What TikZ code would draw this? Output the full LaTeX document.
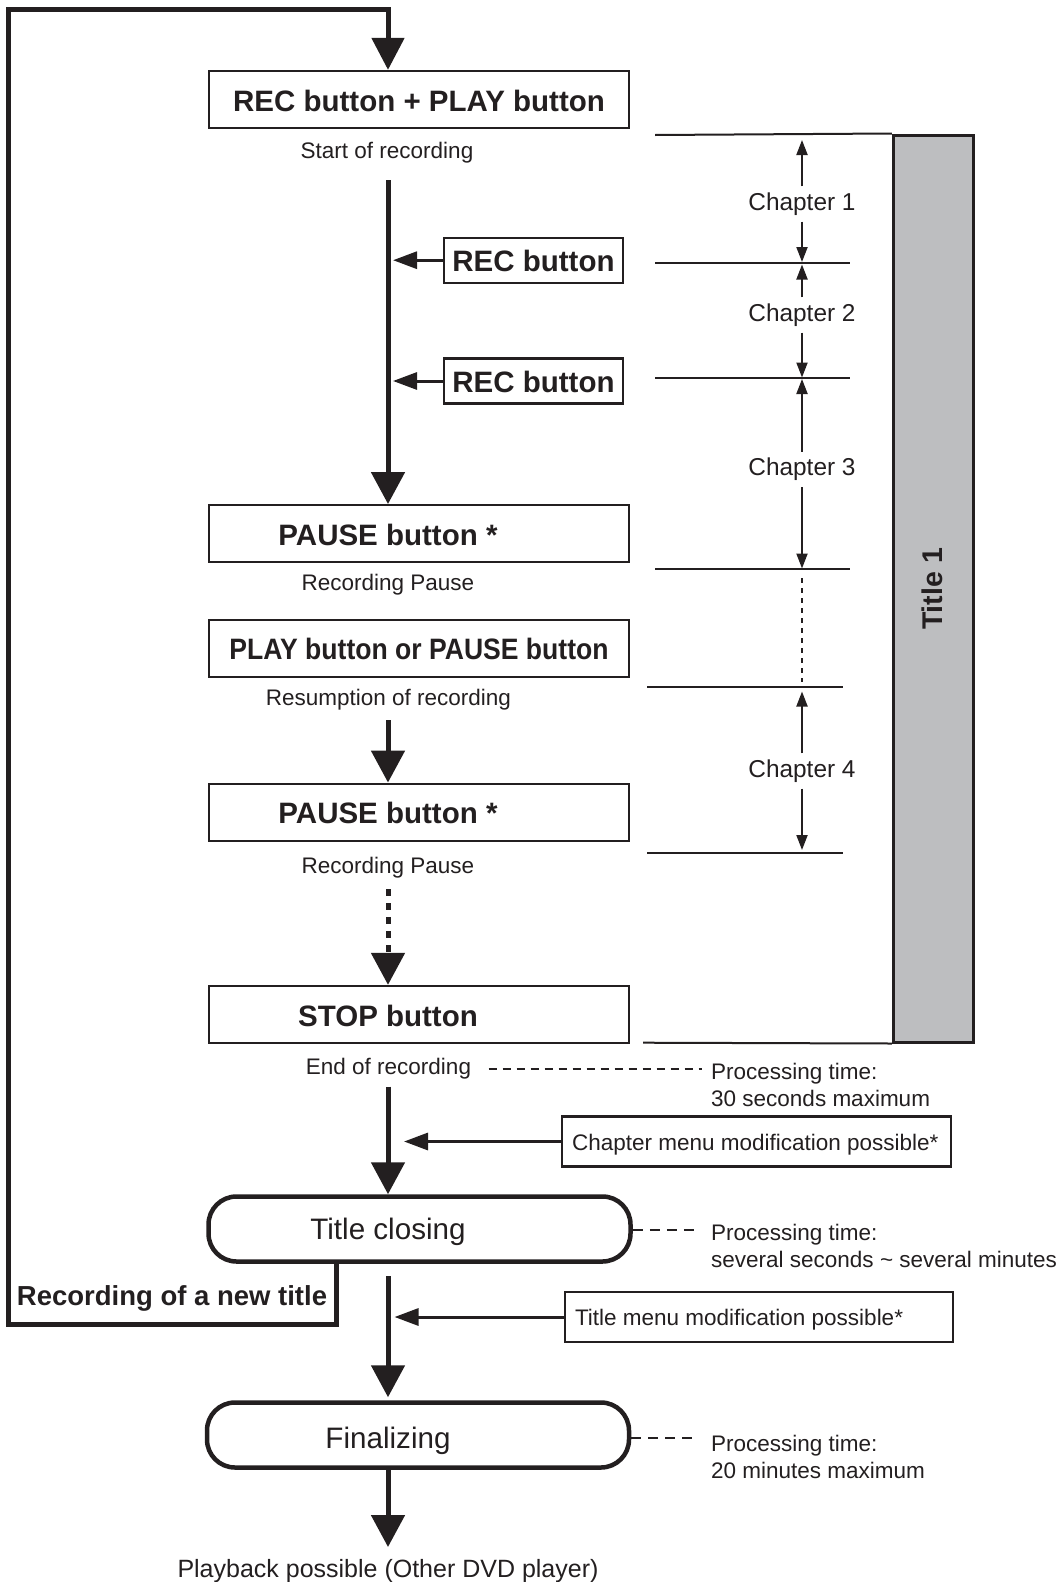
\documentclass[tikz,border=0pt]{standalone}
\usepackage{fontspec}
\usepackage{graphicx}
\setmainfont{Liberation Sans}
\usetikzlibrary{arrows.meta}
\definecolor{ink}{RGB}{35,31,32}
\definecolor{barfill}{RGB}{189,190,192}
\newcommand\myBold{\fontsize{29.5}{34}\selectfont\bfseries}
\newcommand\myNorm{\fontsize{22.5}{27.5}\selectfont}
\newcommand\myChap{\fontsize{24.4}{29}\selectfont}
\newcommand\myLarge{\fontsize{29.6}{34}\selectfont}
\newcommand\myPlay{\fontsize{25}{30}\selectfont}
\newcommand\myNT{\fontsize{27.5}{32}\selectfont\bfseries}
\newcommand\myTitle{\fontsize{28.5}{32}\selectfont\bfseries}
\newcommand\myLower[2]{\raisebox{-#1}[\height][\depth]{#2}}
\begin{document}
\begin{tikzpicture}[x=1pt,y=-1pt,
  every node/.style={text=ink},
  box/.style={draw=ink, line width=2.3pt, minimum width=420pt, minimum height=57pt, inner sep=0pt, font=\myBold},
  smallbox/.style={draw=ink, line width=2.3pt, minimum width=179pt, minimum height=45pt, inner sep=0pt, font=\myBold},
  roundbox/.style={draw=ink, line width=4.5pt, rounded corners=28pt, minimum width=422pt, minimum height=65pt, inner sep=0pt},
  menubox/.style={draw=ink, line width=2.3pt, inner xsep=10pt, inner ysep=0pt, minimum height=50pt, font=\myNorm},
  boldlbl/.style={font=\myBold, inner sep=0pt},
  lbl/.style={font=\myNorm},
  chap/.style={font=\myChap, inner xsep=0pt, inner ysep=6pt},
  proc/.style={font=\myNorm, align=left, anchor=west, inner sep=0pt},
  flow/.style={draw=ink, line width=5pt, -{Triangle[length=32pt,width=33pt]}},
  side/.style={draw=ink, line width=3pt, -{Triangle[length=24pt,width=17pt]}},
  dimarrow/.style={draw=ink, line width=2pt, -{Triangle[length=15pt,width=11pt]}},
  rulel/.style={draw=ink, line width=2pt},
  dashline/.style={draw=ink, line width=2pt, dash pattern=on 8pt off 6pt},
]
\useasboundingbox (0,0) rectangle (1061,1582);

% column coordinates
\coordinate (col) at (388,0);
\coordinate (c1) at (393,0);
\coordinate (c2) at (404,0);
\coordinate (c3) at (394.5,0);

% title bar
\node[draw=ink, fill=barfill, line width=3pt, minimum width=80pt, minimum height=907pt, inner sep=0pt] (bar) at (933.3,588.5) {};
\node[rotate=90, font=\myTitle, inner sep=0pt] (bart) at (932,589) {Title 1};

% main boxes
\node[box] (recplay) at (419,99.5) {\myLower{1.5pt}{REC button + PLAY button}};
\node[lbl] (start) at (387,153) {Start of recording};
\node[smallbox] (rec1) at (533.5,260.2) {\myLower{1pt}{REC button}};
\node[smallbox] (rec2) at (533.5,381) {\myLower{1pt}{REC button}};
\node[box] (pause1) at (419,533.7) {};
\node[boldlbl] (pause1t) at (388,535) {PAUSE button *};
\node[lbl] (rp1) at (388,585) {Recording Pause};
\node[box] (playpause) at (419,648.5) {\scalebox{0.9}[1]{PLAY button or PAUSE button}};
\node[lbl] (resum) at (388.5,699.5) {Resumption of recording};
\node[box] (pause2) at (419,812.2) {};
\node[boldlbl] (pause2t) at (388,813) {PAUSE button *};
\node[lbl] (rp2) at (388,868) {Recording Pause};
\node[box] (stop) at (419,1014.5) {};
\node[boldlbl] (stopt) at (388,1016) {STOP button};
\node[lbl] (endrec) at (388.5,1069) {End of recording};
\node[proc] (pt1) at (711,1085) {Processing time:\\30 seconds maximum};
\node[menubox] (chmenu) at (756.5,1141.5) {\makebox[369pt][l]{\myLower{3pt}{Chapter menu modification possible*}}};
\node[roundbox] (tclose) at (419.5,1229) {};
\node[font=\myLarge, inner sep=0pt] (tcloset) at (388,1232) {Title closing};
\node[proc] (pt2) at (711,1246) {Processing time:\\several seconds \textasciitilde{} several minutes};
\node[font=\myNT, inner sep=0pt] (newt) at (172,1298) {Recording of a new title};
\node[menubox] (tmenu) at (759,1317) {\makebox[368pt][l]{\myLower{3pt}{Title menu modification possible*}}};
\node[roundbox] (final) at (418,1435) {};
\node[font=\myLarge, inner sep=0pt] (finalt) at (388,1441) {Finalizing};
\node[proc] (pt3) at (711,1457) {Processing time:\\20 minutes maximum};
\node[font=\myPlay, inner sep=3pt] (play) at (388,1571) {Playback possible (Other DVD player)};

% loop back
\coordinate (ntc) at (336,1324);
\coordinate (lb) at (8.5,1324);
\coordinate (lt) at (8.5,9);
\coordinate (rt) at (388,9);
\draw[flow, -{Triangle[length=32pt,width=32pt]}] (tclose.south -| ntc) -- (ntc) -- (lb) -- (lt) -- (rt) -- (col |- recplay.north);

% main flow
\coordinate (m1) at (388,180);
\draw[flow] (m1) -- (col |- pause1.north);
\coordinate (m5) at (388,720);
\draw[flow] (m5) -- (col |- pause2.north);
\coordinate (m4) at (388,889);
\draw[flow, dash pattern=on 7pt off 7pt] (m4) -- (col |- stop.north);
\coordinate (m2) at (388,1086.7);
\draw[flow] (m2) -- (col |- tclose.north);
\coordinate (m3) at (388,1276);
\draw[flow, shorten >=3pt] (m3) -- (col |- final.north);
\coordinate (m6) at (388,1547);
\draw[flow] (col |- final.south) -- (m6);

% side arrows
\draw[side] (rec1.west) -- (c1 |- rec1.west);
\draw[side] (rec2.west) -- (c1 |- rec2.west);
\draw[side] (chmenu.west) -- (c2 |- chmenu.west);
\draw[side] (tmenu.west) -- (c3 |- tmenu.west);

% processing dashed lines
\coordinate (d1) at (702,1069);
\coordinate (d2) at (698,1230);
\coordinate (d3) at (697,1438);
\draw[dashline] ([xshift=14pt]endrec.east) -- (d1);
\draw[dashline, dash pattern=on 10pt off 7pt] (tclose.east |- d2) -- (d2);
\draw[dashline, dash pattern=on 10pt off 7pt] (final.east |- d3) -- (d3);

% chapter rules
\draw[rulel] (655,135) -- (bar.north west);
\draw[rulel] (655,263.3) -- (850,263.3);
\draw[rulel] (655,378.3) -- (850,378.3);
\draw[rulel] (655,569.3) -- (850,569.3);
\draw[rulel] (647,687) -- (843,687);
\draw[rulel] (647,852.7) -- (843,852.7);
\draw[rulel] (643,1042.7) -- (bar.south west);

% chapter labels and arrows
\node[chap] (ch1) at (802,204) {Chapter 1};
\node[chap] (ch2) at (802,315) {Chapter 2};
\node[chap] (ch3) at (802,469.5) {Chapter 3};
\node[chap] (ch4) at (802,771) {Chapter 4};
\coordinate (u1) at (802,140);
\coordinate (w1) at (802,262);
\coordinate (u2) at (802,264.5);
\coordinate (w2) at (802,377.5);
\coordinate (u3) at (802,379);
\coordinate (w3) at (802,568.5);
\coordinate (u4) at (802,691.5);
\coordinate (w4) at (802,850);
\draw[dimarrow] (ch1) -- (u1);
\draw[dimarrow] (ch1) -- (w1);
\draw[dimarrow] (ch2) -- (u2);
\draw[dimarrow] (ch2) -- (w2);
\draw[dimarrow] (ch3) -- (u3);
\draw[dimarrow] (ch3) -- (w3);
\draw[dimarrow] (ch4) -- (u4);
\draw[dimarrow] (ch4) -- (w4);
\coordinate (dt1) at (802,578);
\coordinate (dt2) at (802,682);
\draw[draw=ink, line width=2pt, dash pattern=on 5pt off 5pt] (dt1) -- (dt2);
\end{tikzpicture}
\end{document}
